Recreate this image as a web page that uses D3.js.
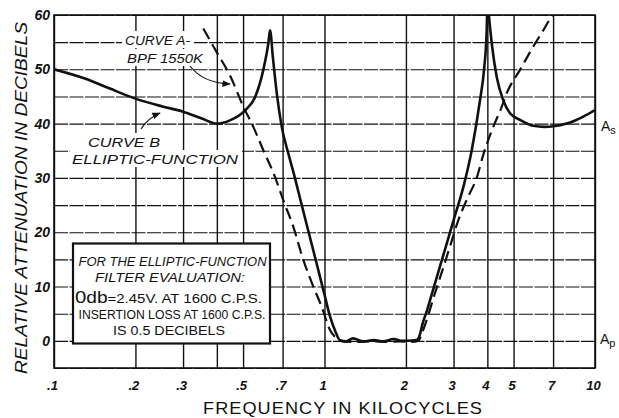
<!DOCTYPE html>
<html><head><meta charset="utf-8">
<script src="https://cdn.jsdelivr.net/npm/d3@7"></script>
<style>body{margin:0;background:#fff}</style>
</head><body>
<svg id="c" width="619" height="418"></svg>
<script>
// ---- data ----
const gridFreqs = [0.1,0.2,0.3,0.4,0.5,0.7,1,2,3,4,5,7,10];
const freqTickValues = [0.1,0.2,0.3,0.5,0.7,1,2,3,4,5,7,10];
const freqTickLabels = [".1",".2",".3",".5",".7","1","2","3","4","5","7","10"];
const dbGrid = [-5,0,5,10,15,20,25,30,35,40,45,50,55,60];
const dbTickValues = [0,10,20,30,40,50,60];

// Curve B: elliptic-function filter (solid)
const curveBFreq = [0.1,0.13,0.16,0.2,0.25,0.3,0.35,0.4,0.447,0.508,0.554,0.594,0.620,0.629,0.645,0.666,0.695,0.735,0.77,0.82,0.88,0.94,1.0,1.048,1.1,1.141,1.2,1.274,1.393,1.52,1.65,1.8,1.94,2.1,2.2,2.25,2.3,2.4,2.49,2.6,2.713,2.85,3.0,3.26,3.502,3.757,3.888,3.978,4.0,4.02,4.06,4.152,4.332,4.581,4.851,5.28,5.915,6.5,7.015,7.86,9.05,10];
const curveBdB   = [50,48.3,46.5,44.6,43.2,42.2,41.0,40.0,40.6,42.4,44.9,49.9,54.8,57.2,52.0,45.6,39.4,34.5,30.8,25.4,19.4,13.8,8.5,4.5,1.6,0.1,-0.1,0.45,-0.1,0.15,-0.1,0.35,0,0.05,0.2,1.1,3.0,5.8,8.5,11.7,14.8,18.4,22.2,28.3,35.1,44.3,49.9,57.2,61.5,62,59.5,54.8,48.6,44.3,41.9,40.7,39.6,39.4,39.5,40.0,41.3,42.5];

// Curve A: BPF 1550K (dashed)
const curveAFreq = [0.3564,0.40,0.447,0.5013,0.5455,0.594,0.656,0.704,0.767,0.835,0.909,0.976,1.048,1.1,1.141,1.3,1.5,1.7,1.9,2.1,2.222,2.3,2.4,2.524,2.713,2.911,3.123,3.401,3.653,3.865,4.207,4.52,4.717,5.28,5.915,6.442,6.919,7.0];
const curveAdB   = [57.5,53.1,48.9,43.1,39.4,35.1,30.2,25.9,21.0,14.9,10.0,6.3,2.0,0.6,0,-0.2,-0.1,-0.2,-0.1,-0.2,0,1.6,4.2,7.8,12.6,17.4,22.2,26.6,30.0,34.3,39.4,43.1,45.6,49.9,54.2,57.2,59.7,60];

// ---- drawing ----
const svg = d3.select("#c");
const L = 54, R = 595, T = 15, B = 368;
const x = d3.scaleLog().domain([0.1,10]).range([L,R]);
const y = d3.scaleLinear().domain([-5,60]).range([B,T]);
const ink = "#111";
const FONT = "'Liberation Sans', Arial, sans-serif";

svg.append("rect").attr("width",619).attr("height",418).attr("fill","#fff");

// grid via axes
const gx = svg.append("g").attr("transform",`translate(0,${B})`)
  .call(d3.axisBottom(x).tickValues(gridFreqs).tickSize(-(B-T)).tickFormat(""));
gx.select(".domain").remove();
gx.selectAll("line").attr("stroke",ink).attr("stroke-width",1.4);

const gy = svg.append("g").attr("transform",`translate(${L},0)`)
  .call(d3.axisLeft(y).tickValues(dbGrid).tickSize(-(R-L)).tickFormat(""));
gy.select(".domain").remove();
gy.selectAll("line").attr("stroke",ink).attr("stroke-width",1.1).attr("stroke-dasharray","14,1.5");

// frame
svg.append("rect").attr("x",L).attr("y",T).attr("width",R-L).attr("height",B-T)
  .attr("fill","none").attr("stroke",ink).attr("stroke-width",1.6);

// tick labels
const xl = svg.append("g").attr("transform",`translate(0,${B})`)
  .call(d3.axisBottom(x).tickValues(freqTickValues).tickSize(0).tickPadding(13)
    .tickFormat((d,i)=>freqTickLabels[i]));
xl.select(".domain").remove();
xl.selectAll("text").attr("font-family",FONT).attr("font-size",13).attr("font-style","italic")
  .attr("font-weight","bold").attr("fill",ink).attr("dx",-2);

const yl = svg.append("g").attr("transform",`translate(${L},0)`)
  .call(d3.axisLeft(y).tickValues(dbTickValues).tickSize(0).tickPadding(4));
yl.select(".domain").remove();
yl.selectAll("text").attr("font-family",FONT).attr("font-size",14).attr("font-style","italic")
  .attr("font-weight","bold").attr("fill",ink);

// clip
svg.append("clipPath").attr("id","clip").append("rect")
  .attr("x",L).attr("y",T).attr("width",R-L).attr("height",B-T);

const line = d3.line().x(d=>x(d[0])).y(d=>y(d[1])).curve(d3.curveMonotoneX);
const dataB = curveBFreq.map((f,i)=>[f,curveBdB[i]]);
const dataA = curveAFreq.map((f,i)=>[f,curveAdB[i]]);

svg.append("path").datum(dataA).attr("clip-path","url(#clip)")
  .attr("d",line).attr("fill","none").attr("stroke",ink).attr("stroke-width",2.2)
  .attr("stroke-dasharray","12,6");
svg.append("path").datum(dataB).attr("clip-path","url(#clip)")
  .attr("d",line).attr("fill","none").attr("stroke",ink).attr("stroke-width",2.6)
  .attr("stroke-linejoin","round");

// arrows
const defs = svg.append("defs");
defs.append("marker").attr("id","ah").attr("viewBox","0 0 10 10").attr("refX",9).attr("refY",5)
  .attr("markerWidth",7).attr("markerHeight",7).attr("orient","auto")
  .append("path").attr("d","M0,1 L10,5 L0,9 Z").attr("fill",ink);
svg.append("path").attr("d","M190,66 Q203,83 230,84").attr("fill","none").attr("stroke",ink)
  .attr("stroke-width",1.2).attr("marker-end","url(#ah)");
svg.append("path").attr("d","M141,129 Q148,118 160,113").attr("fill","none").attr("stroke",ink)
  .attr("stroke-width",1.2).attr("marker-end","url(#ah)");

// annotations
function txt(xp,yp,s,size,len,opts={}){
  const t = svg.append("text").attr("x",xp).attr("y",yp).text(s)
    .attr("font-family",FONT).attr("font-size",size).attr("fill",ink)
    .attr("font-style",opts.italic?"italic":"normal");
  if(len) t.attr("textLength",len).attr("lengthAdjust","spacingAndGlyphs");
  if(opts.anchor) t.attr("text-anchor",opts.anchor);
  return t;
}
// white backgrounds behind labels
[[122,31,72,17],[124,49,82,17],[86,133,76,17],[70,150,172,17]].forEach(r=>
  svg.append("rect").attr("x",r[0]).attr("y",r[1]).attr("width",r[2]).attr("height",r[3]).attr("fill","#fff"));
txt(125,45,"CURVE A-",12.5,65,{italic:true});
txt(127,63,"BPF 1550K",12.5,76,{italic:true});
txt(88,147,"CURVE B",13.5,72,{italic:true});
txt(72,164,"ELLIPTIC-FUNCTION",13.5,166,{italic:true});

// box
svg.append("rect").attr("x",73).attr("y",243.5).attr("width",197).attr("height",100)
  .attr("fill","#fff").attr("stroke",ink).attr("stroke-width",2.2);
txt(78.5,266,"FOR THE ELLIPTIC-FUNCTION",12,188,{italic:true});
txt(95,282,"FILTER EVALUATION:",12,150,{italic:true});
const t3 = svg.append("text").attr("x",75).attr("y",303).attr("font-family",FONT).attr("fill",ink)
  .attr("textLength",187).attr("lengthAdjust","spacingAndGlyphs");
t3.append("tspan").attr("font-size",17).text("0");
t3.append("tspan").attr("font-size",16).text("db");
t3.append("tspan").attr("font-size",12.5).text("=2.45V. AT 1600  C.P.S.");
txt(78.5,319,"INSERTION LOSS AT 1600 C.P.S.",12,187);
txt(113,335,"IS 0.5 DECIBELS",12,112);

// As / Ap
function sub(xp,yp,a,b){
  const t = svg.append("text").attr("x",xp).attr("y",yp).attr("font-family",FONT).attr("fill",ink);
  t.append("tspan").attr("font-size",14).text(a);
  t.append("tspan").attr("font-size",11).attr("dy",3).text(b);
}
sub(601,131,"A","s");
sub(600,344,"A","p");

// axis titles
txt(343,414,"FREQUENCY IN KILOCYCLES",17,280,{anchor:"middle"}).attr("letter-spacing",1);
svg.append("text").attr("transform","translate(27,198) rotate(-90)").attr("text-anchor","middle")
  .attr("font-family",FONT).attr("font-size",17).attr("font-style","italic").attr("fill",ink)
  .attr("textLength",352).attr("lengthAdjust","spacingAndGlyphs")
  .text("RELATIVE ATTENUATION IN DECIBELS");
</script>
</body></html>
